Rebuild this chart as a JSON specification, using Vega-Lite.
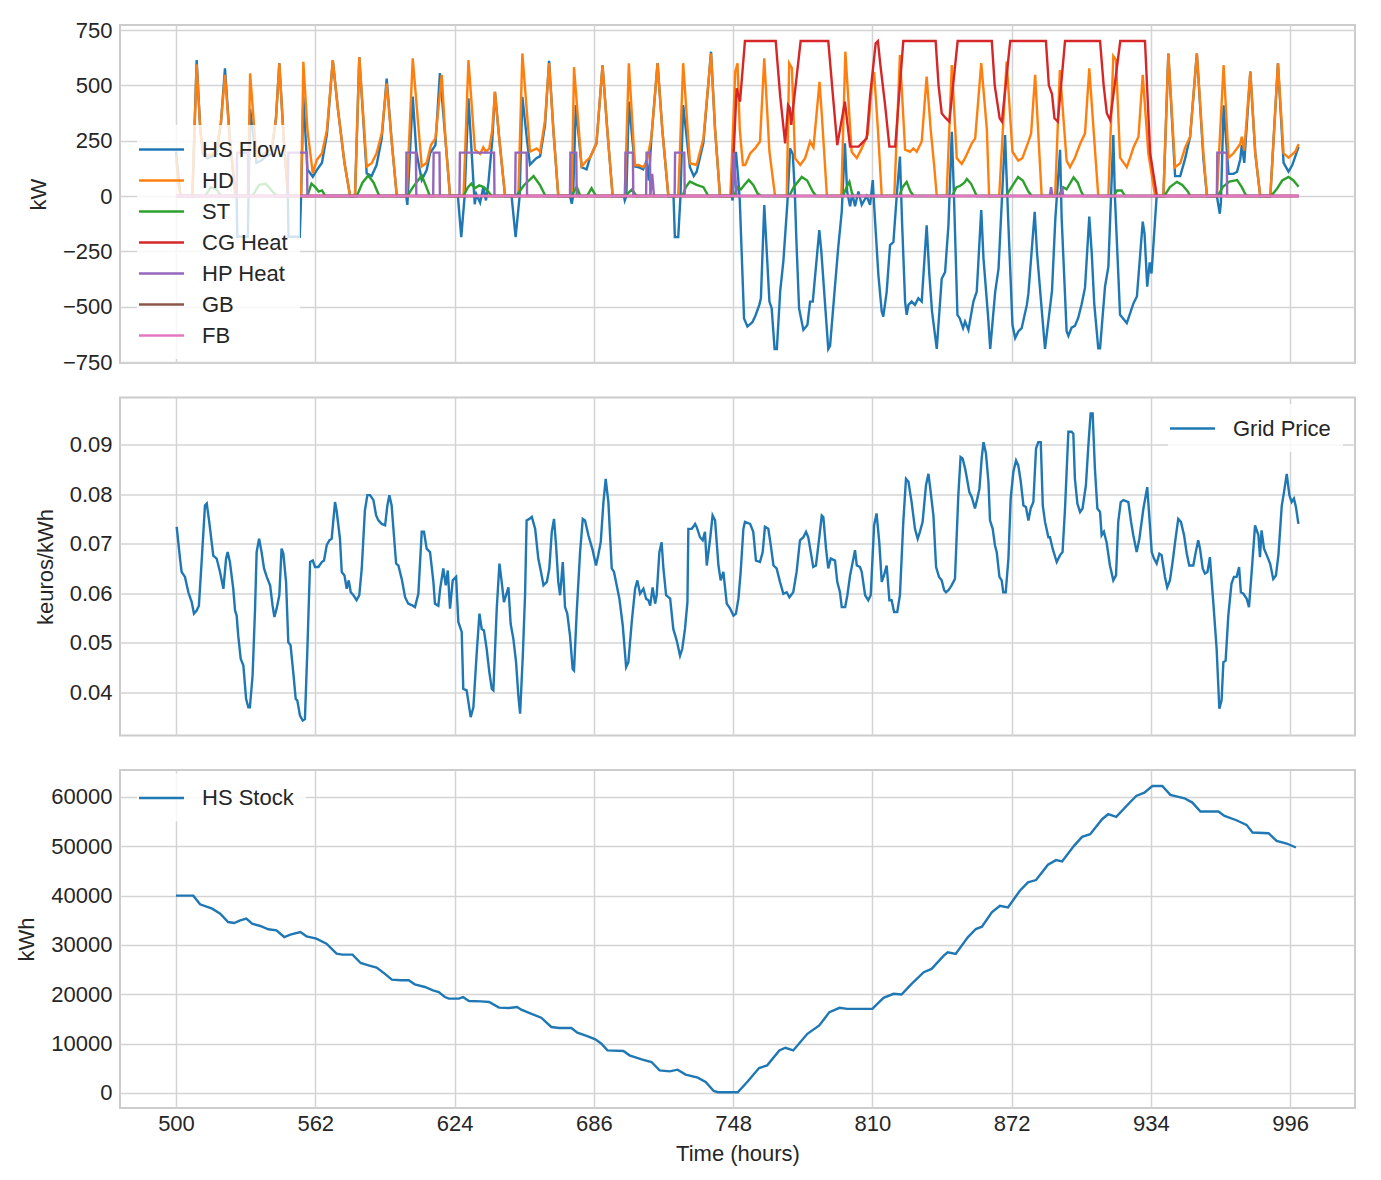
{
"$schema":"https://vega.github.io/schema/vega-lite/v6.json",
"padding":{"left":14,"top":18,"right":26,"bottom":10},
"background":"white",
"spacing":34.5,
"bounds":"flush",
"resolve":{"scale":{"color":"independent"},"legend":{"color":"independent"}},
"vconcat":[
{"width":1235,"height":338,
"encoding":{
"x":{"field":"t","type":"quantitative","scale":{"domain":[475.07,1024.9],"nice":false,"zero":false},"axis":{"values":[500,562,624,686,748,810,872,934,996],"labels":false,"title":null}},
"y":{"field":"v","type":"quantitative","scale":{"domain":[-754.5,772.6],"nice":false,"zero":false},"axis":{"values":[-750,-500,-250,0,250,500,750],"title":"kW"}}},
"layer":[
{"data":{"name":"hs"},"mark":{"type":"line"},"encoding":{"color":{"datum":"HS Flow","type":"nominal","scale":{"domain":["HS Flow","HD","ST","CG Heat","HP Heat","GB","FB"],"range":["#1f77b4","#ff7f0e","#2ca02c","#d62728","#9467bd","#8c564b","#e377c2"]},"legend":{"title":null,"orient":"none","legendX":17,"legendY":100,"symbolType":"M-2,0H2","symbolSize":506,"symbolStrokeWidth":2.4,"labelOffset":28,"rowPadding":7,"padding":12,"fillColor":"rgba(255,255,255,0.8)","labelFontSize":22,"labelColor":"#262626"}}}},
{"data":{"name":"hd"},"mark":{"type":"line"},"encoding":{"color":{"datum":"HD","type":"nominal"}}},
{"data":{"name":"st"},"mark":{"type":"line"},"encoding":{"color":{"datum":"ST","type":"nominal"}}},
{"data":{"name":"cg"},"mark":{"type":"line"},"encoding":{"color":{"datum":"CG Heat","type":"nominal"}}},
{"data":{"name":"hp"},"mark":{"type":"line"},"encoding":{"color":{"datum":"HP Heat","type":"nominal"}}},
{"data":{"name":"gb"},"mark":{"type":"line"},"encoding":{"color":{"datum":"GB","type":"nominal"}}},
{"data":{"name":"fb"},"mark":{"type":"line"},"encoding":{"color":{"datum":"FB","type":"nominal"}}}
]},
{"width":1235,"height":338,
"data":{"name":"price"},
"mark":{"type":"line"},
"encoding":{
"x":{"field":"t","type":"quantitative","scale":{"domain":[475.07,1024.9],"nice":false,"zero":false},"axis":{"values":[500,562,624,686,748,810,872,934,996],"labels":false,"title":null}},
"y":{"field":"p","type":"quantitative","scale":{"domain":[0.0313,0.0995],"nice":false,"zero":false},"axis":{"values":[0.04,0.05,0.06,0.07,0.08,0.09],"format":".2f","title":"keuros/kWh"}},
"color":{"datum":"Grid Price","type":"nominal","scale":{"domain":["Grid Price"],"range":["#1f77b4"]},"legend":{"title":null,"orient":"none","legendX":1048,"legendY":6.5,"symbolType":"M-2,0H2","symbolSize":506,"symbolStrokeWidth":2.4,"labelOffset":28,"padding":12,"fillColor":"rgba(255,255,255,0.8)","labelFontSize":22,"labelColor":"#262626"}}}},
{"width":1235,"height":338,
"data":{"name":"stock"},
"mark":{"type":"line"},
"encoding":{
"x":{"field":"t","type":"quantitative","scale":{"domain":[475.07,1024.9],"nice":false,"zero":false},"axis":{"values":[500,562,624,686,748,810,872,934,996],"format":"d","title":"Time (hours)","labelPadding":5,"titlePadding":9}},
"y":{"field":"s","type":"quantitative","scale":{"domain":[-3041,65473],"nice":false,"zero":false},"axis":{"values":[0,10000,20000,30000,40000,50000,60000],"format":"d","title":"kWh"}},
"color":{"datum":"HS Stock","type":"nominal","scale":{"domain":["HS Stock"],"range":["#1f77b4"]},"legend":{"title":null,"orient":"none","legendX":17,"legendY":3.5,"symbolType":"M-2,0H2","symbolSize":506,"symbolStrokeWidth":2.4,"labelOffset":28,"padding":12,"fillColor":"rgba(255,255,255,0.8)","labelFontSize":22,"labelColor":"#262626"}}}}
],
"datasets":{
"hs":[{"t":500,"v":200},{"t":501.5,"v":50},{"t":502,"v":0},{"t":507.3,"v":0},{"t":509.2,"v":614},{"t":510.8,"v":300},{"t":512,"v":190},{"t":514,"v":170},{"t":516,"v":180},{"t":518,"v":190},{"t":520,"v":330},{"t":521.8,"v":577},{"t":524,"v":250},{"t":526.5,"v":0},{"t":527,"v":0},{"t":527.3,"v":-184},{"t":532,"v":-184},{"t":532.3,"v":0},{"t":533,"v":394},{"t":535.8,"v":150},{"t":538,"v":160},{"t":540,"v":180},{"t":542.5,"v":190},{"t":544.5,"v":350},{"t":546,"v":599},{"t":548,"v":250},{"t":549.8,"v":0},{"t":550.1,"v":-184},{"t":555.1,"v":-184},{"t":555.7,"v":0},{"t":556.7,"v":449},{"t":558.5,"v":120},{"t":560.9,"v":87},{"t":562.7,"v":117},{"t":565,"v":150},{"t":567.2,"v":280},{"t":569.8,"v":614},{"t":572,"v":400},{"t":575,"v":150},{"t":577.5,"v":0},{"t":579.7,"v":0},{"t":581.6,"v":628},{"t":584.9,"v":102},{"t":587.1,"v":90},{"t":589.3,"v":140},{"t":591.6,"v":260},{"t":593.8,"v":531},{"t":596,"v":250},{"t":598.3,"v":0},{"t":602.5,"v":0},{"t":603,"v":-40},{"t":605.4,"v":449},{"t":607,"v":200},{"t":609.4,"v":72},{"t":611.6,"v":117},{"t":613.1,"v":193},{"t":615.5,"v":230},{"t":617.5,"v":555},{"t":620,"v":250},{"t":622,"v":0},{"t":625.5,"v":0},{"t":627,"v":-186},{"t":628.5,"v":0},{"t":630.2,"v":441},{"t":633,"v":-37},{"t":633.7,"v":8},{"t":635.4,"v":-30},{"t":636.8,"v":40},{"t":638,"v":-20},{"t":639.1,"v":60},{"t":640.8,"v":250},{"t":642,"v":471},{"t":644,"v":250},{"t":646.5,"v":0},{"t":649.4,"v":0},{"t":651.2,"v":-186},{"t":653,"v":0},{"t":654.2,"v":448},{"t":656.3,"v":250},{"t":657.6,"v":142},{"t":660.3,"v":170},{"t":662.1,"v":180},{"t":664.3,"v":320},{"t":666.1,"v":611},{"t":668,"v":300},{"t":670.2,"v":0},{"t":675.4,"v":0},{"t":676.2,"v":-35},{"t":676.8,"v":0},{"t":678,"v":411},{"t":680.6,"v":130},{"t":682.8,"v":120},{"t":684.3,"v":173},{"t":687.2,"v":238},{"t":689.9,"v":590},{"t":692,"v":300},{"t":694.4,"v":0},{"t":699.4,"v":0},{"t":699.8,"v":-20},{"t":700.5,"v":0},{"t":701.6,"v":426},{"t":704.3,"v":133},{"t":706,"v":130},{"t":708,"v":120},{"t":709.5,"v":160},{"t":710.5,"v":70},{"t":711.7,"v":270},{"t":714.4,"v":600},{"t":716.5,"v":300},{"t":719.2,"v":0},{"t":721.5,"v":0},{"t":722.1,"v":-186},{"t":723.6,"v":-186},{"t":724.6,"v":0},{"t":725.8,"v":411},{"t":728.8,"v":130},{"t":730.5,"v":90},{"t":731.8,"v":110},{"t":734.8,"v":240},{"t":738.2,"v":652},{"t":740,"v":300},{"t":742.2,"v":0},{"t":747.4,"v":0},{"t":747.8,"v":-20},{"t":748.5,"v":100},{"t":749.3,"v":200},{"t":750.3,"v":80},{"t":751,"v":-20},{"t":752.9,"v":-553},{"t":754.4,"v":-590},{"t":756.6,"v":-570},{"t":758,"v":-540},{"t":759.7,"v":-492},{"t":760.4,"v":-462},{"t":761.9,"v":-41},{"t":764.2,"v":-477},{"t":765.2,"v":-507},{"t":766.5,"v":-691},{"t":767.5,"v":-691},{"t":769,"v":-430},{"t":770.4,"v":-295},{"t":772.2,"v":-30},{"t":773.4,"v":215},{"t":774.6,"v":190},{"t":775.5,"v":20},{"t":776.2,"v":-200},{"t":777.4,"v":-508},{"t":779.3,"v":-605},{"t":781.1,"v":-583},{"t":782.3,"v":-477},{"t":783.5,"v":-477},{"t":786.4,"v":-154},{"t":787.3,"v":-250},{"t":789.1,"v":-508},{"t":790.4,"v":-691},{"t":791.2,"v":-677},{"t":793.4,"v":-405},{"t":794.9,"v":-225},{"t":796.4,"v":-70},{"t":797.8,"v":238},{"t":798.8,"v":20},{"t":800.1,"v":-46},{"t":801.1,"v":10},{"t":802.3,"v":-46},{"t":803.8,"v":20},{"t":805.3,"v":-40},{"t":807.5,"v":0},{"t":809,"v":-40},{"t":810.2,"v":72},{"t":810.8,"v":-40},{"t":812.7,"v":-356},{"t":814.2,"v":-522},{"t":814.9,"v":-545},{"t":816.4,"v":-433},{"t":817.9,"v":-222},{"t":819.4,"v":-208},{"t":820.9,"v":5},{"t":822.3,"v":178},{"t":823.3,"v":-132},{"t":824.6,"v":-477},{"t":825.3,"v":-537},{"t":826.1,"v":-492},{"t":827.5,"v":-477},{"t":829,"v":-492},{"t":830.5,"v":-462},{"t":832,"v":-477},{"t":834.2,"v":-132},{"t":835.4,"v":-356},{"t":836.6,"v":-522},{"t":838.7,"v":-691},{"t":840.9,"v":-374},{"t":842.4,"v":-344},{"t":843.9,"v":-132},{"t":845.4,"v":290},{"t":846.3,"v":20},{"t":847.9,"v":-537},{"t":848.9,"v":-552},{"t":850.4,"v":-597},{"t":851.3,"v":-567},{"t":852.8,"v":-605},{"t":855,"v":-477},{"t":856.5,"v":-432},{"t":858.5,"v":-63},{"t":859.5,"v":-282},{"t":861.6,"v":-552},{"t":862.5,"v":-691},{"t":864.7,"v":-434},{"t":866.2,"v":-328},{"t":869.1,"v":275},{"t":870.6,"v":-132},{"t":872.4,"v":-582},{"t":873.6,"v":-642},{"t":875,"v":-612},{"t":876.5,"v":-597},{"t":878.8,"v":-492},{"t":879.5,"v":-440},{"t":882.3,"v":-71},{"t":883.3,"v":-252},{"t":885.5,"v":-522},{"t":886.9,"v":-691},{"t":890,"v":-429},{"t":891.5,"v":-100},{"t":893.6,"v":209},{"t":894.3,"v":-100},{"t":896.5,"v":-610},{"t":897.3,"v":-632},{"t":898.7,"v":-595},{"t":900.2,"v":-587},{"t":901.7,"v":-550},{"t":903.2,"v":-489},{"t":904.7,"v":-414},{"t":906.6,"v":-93},{"t":907.7,"v":-259},{"t":908.8,"v":-485},{"t":910.6,"v":-688},{"t":911.4,"v":-688},{"t":913.6,"v":-410},{"t":915.1,"v":-319},{"t":917.3,"v":275},{"t":918,"v":0},{"t":920.3,"v":-537},{"t":923.3,"v":-574},{"t":924.8,"v":-529},{"t":926.3,"v":-484},{"t":927.8,"v":-454},{"t":930.4,"v":-116},{"t":931.2,"v":-170},{"t":932.4,"v":-410},{"t":933.5,"v":-300},{"t":934.3,"v":-350},{"t":936.6,"v":0},{"t":939.6,"v":0},{"t":941.8,"v":644},{"t":944.8,"v":90},{"t":947.1,"v":90},{"t":949.3,"v":170},{"t":951.5,"v":268},{"t":954.5,"v":644},{"t":957.4,"v":170},{"t":959,"v":0},{"t":963.4,"v":0},{"t":964.7,"v":-80},{"t":965.2,"v":-30},{"t":966.4,"v":410},{"t":968.6,"v":100},{"t":970.8,"v":100},{"t":972.4,"v":110},{"t":973.8,"v":165},{"t":974.5,"v":230},{"t":975.6,"v":150},{"t":978.3,"v":562},{"t":980.5,"v":193},{"t":982.7,"v":0},{"t":987.2,"v":0},{"t":990.6,"v":599},{"t":993.1,"v":150},{"t":995.3,"v":110},{"t":997,"v":140},{"t":999.8,"v":223}],
"hd":[{"t":500,"v":180},{"t":501,"v":60},{"t":502,"v":0},{"t":507.3,"v":0},{"t":509.2,"v":595},{"t":510.8,"v":300},{"t":512,"v":200},{"t":514,"v":180},{"t":516,"v":190},{"t":518,"v":200},{"t":520,"v":330},{"t":521.8,"v":547},{"t":524,"v":250},{"t":526.5,"v":0},{"t":532,"v":0},{"t":533,"v":554},{"t":535.8,"v":175},{"t":538,"v":180},{"t":540,"v":200},{"t":542.5,"v":210},{"t":544.5,"v":350},{"t":546,"v":599},{"t":548,"v":250},{"t":550,"v":0},{"t":555.7,"v":0},{"t":556.7,"v":606},{"t":558.5,"v":300},{"t":560.9,"v":102},{"t":562.7,"v":163},{"t":565,"v":193},{"t":567.2,"v":298},{"t":569.8,"v":614},{"t":572,"v":400},{"t":575,"v":150},{"t":577.5,"v":0},{"t":579.7,"v":0},{"t":581.6,"v":628},{"t":584.9,"v":133},{"t":587.1,"v":148},{"t":589.3,"v":193},{"t":591.6,"v":283},{"t":593.8,"v":509},{"t":596,"v":250},{"t":598.3,"v":0},{"t":602.7,"v":0},{"t":605.4,"v":622},{"t":609.4,"v":133},{"t":611.6,"v":150},{"t":613.5,"v":230},{"t":615.5,"v":260},{"t":618.3,"v":547},{"t":620,"v":250},{"t":622,"v":0},{"t":628,"v":0},{"t":630.2,"v":614},{"t":633.1,"v":208},{"t":635.4,"v":190},{"t":636.8,"v":220},{"t":638,"v":200},{"t":639.5,"v":215},{"t":640.8,"v":300},{"t":642,"v":471},{"t":644,"v":250},{"t":646.5,"v":0},{"t":652.4,"v":0},{"t":654.2,"v":644},{"t":657.6,"v":200},{"t":660.6,"v":215},{"t":662.1,"v":200},{"t":664.3,"v":343},{"t":666.1,"v":600},{"t":668,"v":300},{"t":670.2,"v":0},{"t":676.2,"v":0},{"t":677.2,"v":582},{"t":680.6,"v":133},{"t":682.8,"v":160},{"t":684.3,"v":173},{"t":687.2,"v":238},{"t":689.9,"v":590},{"t":692,"v":300},{"t":694.4,"v":0},{"t":699.8,"v":0},{"t":701.6,"v":600},{"t":704.3,"v":139},{"t":706,"v":140},{"t":708,"v":130},{"t":709.5,"v":150},{"t":711.7,"v":268},{"t":714.4,"v":600},{"t":716.5,"v":300},{"t":719.2,"v":0},{"t":723.6,"v":0},{"t":725.8,"v":600},{"t":728.8,"v":148},{"t":731.8,"v":140},{"t":734.8,"v":260},{"t":738.2,"v":644},{"t":740,"v":300},{"t":742.2,"v":0},{"t":746.8,"v":0},{"t":749,"v":562},{"t":750,"v":600},{"t":751,"v":300},{"t":752.4,"v":140},{"t":753.4,"v":140},{"t":755.6,"v":192},{"t":757.8,"v":215},{"t":760,"v":246},{"t":761.9,"v":622},{"t":764.2,"v":200},{"t":766.7,"v":0},{"t":771.9,"v":0},{"t":773,"v":600},{"t":774.2,"v":578},{"t":775.6,"v":171},{"t":777.9,"v":140},{"t":780.1,"v":171},{"t":782.3,"v":246},{"t":783.8,"v":220},{"t":786.5,"v":516},{"t":787.5,"v":370},{"t":789.8,"v":0},{"t":796.2,"v":0},{"t":798,"v":652},{"t":800.8,"v":200},{"t":803.1,"v":171},{"t":805.3,"v":215},{"t":808,"v":280},{"t":810.2,"v":547},{"t":810.8,"v":560},{"t":812.5,"v":300},{"t":814.2,"v":0},{"t":819.8,"v":0},{"t":822.3,"v":637},{"t":824.6,"v":209},{"t":826.8,"v":200},{"t":828.3,"v":215},{"t":829.8,"v":200},{"t":832,"v":246},{"t":834.2,"v":539},{"t":836,"v":300},{"t":837.6,"v":130},{"t":838.7,"v":0},{"t":843.1,"v":0},{"t":845.4,"v":592},{"t":847.6,"v":171},{"t":849.8,"v":145},{"t":851.3,"v":171},{"t":854.3,"v":238},{"t":855.8,"v":260},{"t":858.5,"v":600},{"t":861,"v":300},{"t":862,"v":0},{"t":866.5,"v":0},{"t":869.8,"v":607},{"t":872.4,"v":200},{"t":875,"v":160},{"t":876.8,"v":171},{"t":879.5,"v":246},{"t":880.7,"v":282},{"t":882.5,"v":547},{"t":885.4,"v":0},{"t":891.4,"v":0},{"t":893.5,"v":569},{"t":896.5,"v":160},{"t":898,"v":130},{"t":900.2,"v":173},{"t":902.5,"v":235},{"t":904.7,"v":283},{"t":906.6,"v":577},{"t":908.5,"v":300},{"t":910.6,"v":0},{"t":915.1,"v":0},{"t":917.3,"v":632},{"t":918.5,"v":615},{"t":920.3,"v":173},{"t":923.3,"v":130},{"t":924.8,"v":173},{"t":926.3,"v":220},{"t":928.5,"v":268},{"t":930.4,"v":547},{"t":932.9,"v":193},{"t":935.9,"v":0},{"t":939.6,"v":0},{"t":941.8,"v":644},{"t":944.8,"v":130},{"t":947.1,"v":148},{"t":949.3,"v":220},{"t":951.5,"v":268},{"t":954.5,"v":644},{"t":957.4,"v":193},{"t":959,"v":0},{"t":963.4,"v":0},{"t":966.4,"v":592},{"t":968.6,"v":173},{"t":970.8,"v":193},{"t":973.8,"v":235},{"t":974.5,"v":268},{"t":975.6,"v":205},{"t":978.3,"v":562},{"t":980.5,"v":193},{"t":982.7,"v":0},{"t":987.2,"v":0},{"t":990.6,"v":599},{"t":993.1,"v":193},{"t":995.3,"v":173},{"t":998.3,"v":200},{"t":999.8,"v":235}],
"st":[{"t":500,"v":0},{"t":513,"v":0},{"t":515.5,"v":40},{"t":518,"v":30},{"t":520,"v":0},{"t":534,"v":0},{"t":537,"v":50},{"t":540,"v":55},{"t":543,"v":20},{"t":545,"v":0},{"t":558.5,"v":0},{"t":560.3,"v":56},{"t":562,"v":40},{"t":563.5,"v":20},{"t":565,"v":25},{"t":566.5,"v":0},{"t":580.5,"v":0},{"t":583,"v":60},{"t":585.6,"v":93},{"t":588,"v":60},{"t":590.5,"v":0},{"t":603,"v":0},{"t":605.5,"v":40},{"t":609.4,"v":93},{"t":611.5,"v":40},{"t":613,"v":0},{"t":628,"v":0},{"t":630,"v":40},{"t":631.5,"v":56},{"t":633,"v":35},{"t":635,"v":48},{"t":637,"v":40},{"t":639,"v":20},{"t":640.5,"v":0},{"t":651.5,"v":0},{"t":655,"v":50},{"t":659.2,"v":90},{"t":662,"v":50},{"t":664.5,"v":0},{"t":676,"v":0},{"t":678.4,"v":42},{"t":680,"v":0},{"t":683,"v":0},{"t":685,"v":35},{"t":687,"v":0},{"t":700,"v":0},{"t":703,"v":30},{"t":705,"v":0},{"t":725.5,"v":0},{"t":727,"v":40},{"t":728.8,"v":65},{"t":731.8,"v":50},{"t":734.8,"v":40},{"t":737,"v":0},{"t":748.5,"v":0},{"t":750,"v":40},{"t":751.5,"v":30},{"t":753,"v":50},{"t":755,"v":73},{"t":757,"v":50},{"t":759,"v":10},{"t":760.8,"v":0},{"t":773,"v":0},{"t":775,"v":40},{"t":778.6,"v":86},{"t":781,"v":70},{"t":783.5,"v":20},{"t":785,"v":0},{"t":797,"v":0},{"t":798.5,"v":40},{"t":799.8,"v":64},{"t":801,"v":10},{"t":802,"v":0},{"t":822,"v":0},{"t":823.5,"v":40},{"t":825.3,"v":64},{"t":827,"v":20},{"t":828.5,"v":0},{"t":845.5,"v":0},{"t":847.5,"v":40},{"t":849,"v":45},{"t":851,"v":60},{"t":852.1,"v":77},{"t":854,"v":55},{"t":856.5,"v":0},{"t":869.5,"v":0},{"t":872,"v":40},{"t":874.9,"v":86},{"t":877,"v":70},{"t":879.5,"v":20},{"t":881,"v":0},{"t":893,"v":0},{"t":895,"v":40},{"t":896.5,"v":30},{"t":899.6,"v":84},{"t":901.5,"v":60},{"t":903,"v":20},{"t":904,"v":0},{"t":917.5,"v":0},{"t":919,"v":25},{"t":921,"v":25},{"t":922.5,"v":0},{"t":940,"v":0},{"t":942.5,"v":40},{"t":945.6,"v":64},{"t":948,"v":50},{"t":950.5,"v":20},{"t":951.5,"v":0},{"t":963.8,"v":0},{"t":966,"v":40},{"t":969,"v":65},{"t":972.4,"v":72},{"t":974.5,"v":40},{"t":976.5,"v":0},{"t":987.5,"v":0},{"t":990,"v":30},{"t":992.5,"v":70},{"t":995.3,"v":86},{"t":997.5,"v":70},{"t":999.8,"v":42}],
"cg":[{"t":500,"v":0},{"t":747.4,"v":0},{"t":749.6,"v":487},{"t":751.1,"v":426},{"t":753.3,"v":700},{"t":767,"v":700},{"t":769,"v":450},{"t":771.2,"v":238},{"t":772.5,"v":411},{"t":773.2,"v":400},{"t":773.9,"v":321},{"t":778.1,"v":700},{"t":790.4,"v":700},{"t":792.5,"v":450},{"t":794.4,"v":230},{"t":797.8,"v":426},{"t":800.1,"v":223},{"t":803.9,"v":223},{"t":805.5,"v":240},{"t":807.5,"v":260},{"t":809,"v":450},{"t":811.5,"v":690},{"t":812.5,"v":700},{"t":813.5,"v":600},{"t":815.7,"v":411},{"t":817.6,"v":223},{"t":820.2,"v":223},{"t":823.8,"v":700},{"t":838.2,"v":700},{"t":839.5,"v":500},{"t":840.9,"v":374},{"t":842.4,"v":355},{"t":844.3,"v":336},{"t":848,"v":700},{"t":863.2,"v":700},{"t":864.5,"v":500},{"t":866.7,"v":351},{"t":867.7,"v":336},{"t":871.4,"v":700},{"t":887.3,"v":700},{"t":888.6,"v":500},{"t":890,"v":461},{"t":891.1,"v":351},{"t":892.6,"v":336},{"t":895.8,"v":700},{"t":911.4,"v":700},{"t":913,"v":500},{"t":914.4,"v":374},{"t":915.9,"v":343},{"t":920.4,"v":700},{"t":931.4,"v":700},{"t":933.7,"v":193},{"t":936.7,"v":0},{"t":999.8,"v":0}],
"hp":[{"t":500,"v":0},{"t":527,"v":0},{"t":527.2,"v":196},{"t":532,"v":196},{"t":532.2,"v":0},{"t":549.8,"v":0},{"t":550,"v":196},{"t":558.3,"v":196},{"t":558.5,"v":0},{"t":602.4,"v":0},{"t":602.6,"v":196},{"t":606.8,"v":196},{"t":607,"v":0},{"t":614.5,"v":0},{"t":614.7,"v":196},{"t":617.3,"v":196},{"t":617.5,"v":0},{"t":626.2,"v":0},{"t":626.4,"v":196},{"t":641.6,"v":196},{"t":641.8,"v":0},{"t":651,"v":0},{"t":651.2,"v":196},{"t":656.1,"v":196},{"t":656.3,"v":0},{"t":675.4,"v":0},{"t":675.6,"v":196},{"t":678.2,"v":196},{"t":678.4,"v":0},{"t":699.9,"v":0},{"t":700.1,"v":196},{"t":703.4,"v":196},{"t":703.6,"v":0},{"t":709.3,"v":0},{"t":709.5,"v":196},{"t":711,"v":196},{"t":711.2,"v":0},{"t":712,"v":100},{"t":712.8,"v":0},{"t":722,"v":0},{"t":722.2,"v":196},{"t":726.3,"v":196},{"t":726.5,"v":0},{"t":747.8,"v":0},{"t":748.3,"v":196},{"t":749.6,"v":0},{"t":889,"v":0},{"t":889.6,"v":40},{"t":890.2,"v":0},{"t":894,"v":0},{"t":894.5,"v":40},{"t":895,"v":0},{"t":963.4,"v":0},{"t":963.6,"v":196},{"t":967.8,"v":196},{"t":968,"v":0},{"t":999.8,"v":0}],
"gb":[{"t":500,"v":0},{"t":999.8,"v":0}],
"fb":[{"t":500,"v":0},{"t":999.8,"v":0}],
"price":[{"t":500.3,"p":0.0734},{"t":501.8,"p":0.067},{"t":502.5,"p":0.0643},{"t":504,"p":0.0633},{"t":505.5,"p":0.0602},{"t":507,"p":0.0582},{"t":508,"p":0.0559},{"t":509.2,"p":0.0565},{"t":510.2,"p":0.0575},{"t":511.4,"p":0.0663},{"t":512.9,"p":0.0777},{"t":513.7,"p":0.0781},{"t":514.8,"p":0.0744},{"t":516.6,"p":0.0676},{"t":518.1,"p":0.067},{"t":519.6,"p":0.0643},{"t":521.1,"p":0.0609},{"t":522.3,"p":0.067},{"t":523,"p":0.0683},{"t":524,"p":0.0663},{"t":525.5,"p":0.0609},{"t":526.3,"p":0.0565},{"t":527,"p":0.0555},{"t":527.7,"p":0.0515},{"t":528.8,"p":0.0468},{"t":530,"p":0.0454},{"t":531.2,"p":0.0387},{"t":532.2,"p":0.037},{"t":532.9,"p":0.037},{"t":534.1,"p":0.0434},{"t":535.2,"p":0.0569},{"t":535.9,"p":0.0683},{"t":537,"p":0.071},{"t":538.1,"p":0.0683},{"t":539.2,"p":0.065},{"t":540.4,"p":0.0633},{"t":541.9,"p":0.0616},{"t":543,"p":0.0575},{"t":543.8,"p":0.0552},{"t":544.8,"p":0.0569},{"t":546,"p":0.0596},{"t":547,"p":0.069},{"t":547.8,"p":0.068},{"t":549,"p":0.0623},{"t":550,"p":0.0501},{"t":551,"p":0.0495},{"t":552.2,"p":0.0441},{"t":553.3,"p":0.0387},{"t":554,"p":0.0384},{"t":555.2,"p":0.0353},{"t":556.4,"p":0.0343},{"t":557.4,"p":0.0346},{"t":558.5,"p":0.0488},{"t":559.7,"p":0.0663},{"t":560.9,"p":0.0666},{"t":561.9,"p":0.0653},{"t":563.4,"p":0.0653},{"t":564.9,"p":0.0663},{"t":565.9,"p":0.0666},{"t":567.1,"p":0.0697},{"t":568.3,"p":0.0707},{"t":569.3,"p":0.071},{"t":570.8,"p":0.0784},{"t":571.5,"p":0.0767},{"t":573,"p":0.071},{"t":573.8,"p":0.0643},{"t":575,"p":0.0636},{"t":576,"p":0.0609},{"t":576.9,"p":0.0626},{"t":577.8,"p":0.0602},{"t":579,"p":0.0596},{"t":580.4,"p":0.0586},{"t":581.6,"p":0.0596},{"t":582.7,"p":0.065},{"t":584.1,"p":0.0767},{"t":585.2,"p":0.0798},{"t":586.4,"p":0.0798},{"t":587.9,"p":0.0788},{"t":589.1,"p":0.0757},{"t":590.1,"p":0.0747},{"t":591.6,"p":0.074},{"t":593.1,"p":0.0737},{"t":594.1,"p":0.0777},{"t":595,"p":0.0798},{"t":596,"p":0.0777},{"t":598,"p":0.066},{"t":599,"p":0.0656},{"t":600.5,"p":0.0629},{"t":602,"p":0.0592},{"t":603.4,"p":0.0579},{"t":605.4,"p":0.0575},{"t":606.4,"p":0.0572},{"t":607.9,"p":0.0599},{"t":609.4,"p":0.0724},{"t":610.4,"p":0.0724},{"t":611.6,"p":0.069},{"t":613.1,"p":0.0683},{"t":614.6,"p":0.0623},{"t":615.3,"p":0.0579},{"t":616.8,"p":0.0575},{"t":617.6,"p":0.0609},{"t":619,"p":0.065},{"t":620.1,"p":0.0616},{"t":621,"p":0.0646},{"t":622,"p":0.0569},{"t":623.2,"p":0.0626},{"t":624.7,"p":0.0633},{"t":625.7,"p":0.0542},{"t":627.2,"p":0.0522},{"t":627.9,"p":0.0407},{"t":629.4,"p":0.0404},{"t":631.2,"p":0.035},{"t":632.4,"p":0.037},{"t":633.9,"p":0.0481},{"t":635.1,"p":0.0559},{"t":636.1,"p":0.0528},{"t":637.1,"p":0.0525},{"t":638.3,"p":0.0488},{"t":639.5,"p":0.0441},{"t":640.6,"p":0.0407},{"t":641.3,"p":0.0404},{"t":642.8,"p":0.0569},{"t":644,"p":0.066},{"t":645,"p":0.0623},{"t":646,"p":0.0582},{"t":648,"p":0.0612},{"t":649,"p":0.0538},{"t":650.2,"p":0.0508},{"t":651.4,"p":0.0461},{"t":652.4,"p":0.0394},{"t":653.2,"p":0.0357},{"t":654.4,"p":0.0474},{"t":655.4,"p":0.0596},{"t":656.1,"p":0.0747},{"t":657.3,"p":0.075},{"t":658.4,"p":0.0754},{"t":659.9,"p":0.073},{"t":661.3,"p":0.067},{"t":662.5,"p":0.0643},{"t":663.6,"p":0.0616},{"t":665.1,"p":0.0623},{"t":666.2,"p":0.065},{"t":667.3,"p":0.0724},{"t":668.3,"p":0.075},{"t":669.2,"p":0.0697},{"t":670.2,"p":0.0623},{"t":671,"p":0.0596},{"t":672.2,"p":0.0663},{"t":673.2,"p":0.0572},{"t":674.2,"p":0.0559},{"t":675.4,"p":0.0515},{"t":676.6,"p":0.0447},{"t":677.2,"p":0.0444},{"t":678.4,"p":0.0562},{"t":679.9,"p":0.0683},{"t":681.1,"p":0.075},{"t":682.1,"p":0.0747},{"t":683.6,"p":0.0717},{"t":685.5,"p":0.0687},{"t":687,"p":0.0656},{"t":688,"p":0.0677},{"t":689.1,"p":0.0703},{"t":690.3,"p":0.0784},{"t":691.3,"p":0.0831},{"t":692.5,"p":0.0784},{"t":694,"p":0.065},{"t":695,"p":0.0643},{"t":696.2,"p":0.0616},{"t":697.4,"p":0.0589},{"t":698.9,"p":0.0535},{"t":700.4,"p":0.0451},{"t":701.4,"p":0.0461},{"t":702.9,"p":0.0542},{"t":704.4,"p":0.0609},{"t":705.4,"p":0.0626},{"t":706.6,"p":0.0599},{"t":708.1,"p":0.0609},{"t":709.3,"p":0.0589},{"t":710.3,"p":0.0586},{"t":711.1,"p":0.0575},{"t":712.2,"p":0.0612},{"t":713.3,"p":0.0579},{"t":714,"p":0.0596},{"t":715.2,"p":0.0683},{"t":716.2,"p":0.0703},{"t":717,"p":0.065},{"t":718.2,"p":0.0596},{"t":720,"p":0.0589},{"t":721.4,"p":0.0528},{"t":722.9,"p":0.0505},{"t":724.4,"p":0.0474},{"t":725.4,"p":0.0488},{"t":726.6,"p":0.0528},{"t":727.7,"p":0.0582},{"t":728.1,"p":0.073},{"t":729.6,"p":0.073},{"t":730.3,"p":0.0734},{"t":731.1,"p":0.074},{"t":731.8,"p":0.0734},{"t":733.3,"p":0.0713},{"t":734.5,"p":0.0707},{"t":735.5,"p":0.0724},{"t":736.3,"p":0.0656},{"t":737.8,"p":0.071},{"t":738.9,"p":0.0757},{"t":740,"p":0.0747},{"t":741.5,"p":0.0656},{"t":742.5,"p":0.0626},{"t":743.7,"p":0.0643},{"t":745.2,"p":0.0579},{"t":746.7,"p":0.0569},{"t":748.2,"p":0.0555},{"t":749.3,"p":0.0559},{"t":750.4,"p":0.0589},{"t":751.4,"p":0.0643},{"t":752.6,"p":0.073},{"t":753.3,"p":0.0744},{"t":755.6,"p":0.074},{"t":757,"p":0.0724},{"t":758.2,"p":0.0666},{"t":760,"p":0.0663},{"t":761.2,"p":0.0683},{"t":762.2,"p":0.0734},{"t":763.7,"p":0.073},{"t":764.8,"p":0.0697},{"t":766,"p":0.0656},{"t":767.4,"p":0.065},{"t":768.9,"p":0.0623},{"t":770.4,"p":0.0599},{"t":771.9,"p":0.0602},{"t":773.1,"p":0.0592},{"t":774.8,"p":0.0602},{"t":776.3,"p":0.0643},{"t":777.8,"p":0.0707},{"t":779.3,"p":0.0713},{"t":780.5,"p":0.0724},{"t":781.5,"p":0.0713},{"t":782.6,"p":0.0683},{"t":783.7,"p":0.0653},{"t":784.9,"p":0.0656},{"t":786,"p":0.0697},{"t":787.5,"p":0.0757},{"t":788.2,"p":0.0754},{"t":789.4,"p":0.069},{"t":790.4,"p":0.065},{"t":791.5,"p":0.067},{"t":793.4,"p":0.0666},{"t":794.4,"p":0.0623},{"t":795.6,"p":0.0602},{"t":796.4,"p":0.0572},{"t":797.9,"p":0.0572},{"t":798.9,"p":0.0596},{"t":800.1,"p":0.0636},{"t":801.6,"p":0.067},{"t":802.3,"p":0.0687},{"t":803.1,"p":0.0656},{"t":804.5,"p":0.0653},{"t":805.3,"p":0.0643},{"t":806.8,"p":0.0596},{"t":808.2,"p":0.0586},{"t":809.3,"p":0.0596},{"t":810.8,"p":0.0737},{"t":811.9,"p":0.0761},{"t":813.1,"p":0.0703},{"t":814.2,"p":0.0623},{"t":815.2,"p":0.0636},{"t":816.4,"p":0.0656},{"t":817.6,"p":0.0586},{"t":818.6,"p":0.0586},{"t":819.7,"p":0.0562},{"t":821.1,"p":0.0562},{"t":822.3,"p":0.0596},{"t":823.8,"p":0.0744},{"t":825,"p":0.0831},{"t":826.1,"p":0.0825},{"t":827.5,"p":0.0784},{"t":829,"p":0.073},{"t":830.2,"p":0.071},{"t":831.2,"p":0.0724},{"t":832.4,"p":0.0744},{"t":833.9,"p":0.0818},{"t":835,"p":0.0841},{"t":836,"p":0.0804},{"t":837.2,"p":0.0757},{"t":838.4,"p":0.0653},{"t":839.7,"p":0.0633},{"t":840.9,"p":0.0626},{"t":842,"p":0.0606},{"t":842.8,"p":0.0602},{"t":843.9,"p":0.0606},{"t":845.3,"p":0.0616},{"t":846.8,"p":0.0629},{"t":848.3,"p":0.0798},{"t":849.3,"p":0.0875},{"t":850.2,"p":0.0872},{"t":851.3,"p":0.0852},{"t":852,"p":0.0835},{"t":853.2,"p":0.0804},{"t":854.3,"p":0.0794},{"t":855.7,"p":0.0771},{"t":856.8,"p":0.0792},{"t":857.7,"p":0.0811},{"t":858.7,"p":0.0872},{"t":859.5,"p":0.0905},{"t":860.6,"p":0.0882},{"t":861.7,"p":0.0825},{"t":862.4,"p":0.0747},{"t":863.6,"p":0.073},{"t":864.6,"p":0.0697},{"t":865.4,"p":0.0683},{"t":866.6,"p":0.0633},{"t":867.6,"p":0.0626},{"t":868.3,"p":0.0602},{"t":869.4,"p":0.0602},{"t":870.6,"p":0.067},{"t":871.6,"p":0.0791},{"t":872.8,"p":0.0845},{"t":874,"p":0.0868},{"t":875,"p":0.0858},{"t":876.1,"p":0.0825},{"t":877.3,"p":0.0777},{"t":878.4,"p":0.0774},{"t":879.5,"p":0.0747},{"t":880.5,"p":0.0771},{"t":881.7,"p":0.0784},{"t":882.9,"p":0.0892},{"t":883.9,"p":0.0905},{"t":885,"p":0.0905},{"t":885.9,"p":0.0777},{"t":886.9,"p":0.0744},{"t":888.4,"p":0.0713},{"t":889.1,"p":0.0713},{"t":890.3,"p":0.069},{"t":892.1,"p":0.0663},{"t":893.6,"p":0.0677},{"t":894.7,"p":0.0683},{"t":895.8,"p":0.0771},{"t":896.8,"p":0.0875},{"t":897.3,"p":0.0926},{"t":898.7,"p":0.0926},{"t":899.5,"p":0.0922},{"t":900.2,"p":0.0831},{"t":901.3,"p":0.0781},{"t":902.5,"p":0.0764},{"t":903.6,"p":0.0771},{"t":905.1,"p":0.0818},{"t":906.2,"p":0.0899},{"t":907.2,"p":0.0963},{"t":908.1,"p":0.0963},{"t":909.1,"p":0.0852},{"t":910.2,"p":0.0771},{"t":911.4,"p":0.0764},{"t":912.1,"p":0.0717},{"t":913.1,"p":0.0724},{"t":914.3,"p":0.0703},{"t":915.8,"p":0.0656},{"t":917.3,"p":0.0626},{"t":918.5,"p":0.0636},{"t":919.5,"p":0.0744},{"t":920.6,"p":0.0784},{"t":921.8,"p":0.0788},{"t":924,"p":0.0784},{"t":925.2,"p":0.0744},{"t":926.2,"p":0.0717},{"t":927.7,"p":0.0683},{"t":928.9,"p":0.071},{"t":930.7,"p":0.0771},{"t":932.4,"p":0.0814},{"t":933.6,"p":0.0737},{"t":934.4,"p":0.0683},{"t":935.4,"p":0.067},{"t":936.6,"p":0.066},{"t":937.8,"p":0.068},{"t":938.8,"p":0.0677},{"t":940.3,"p":0.0633},{"t":941.3,"p":0.0612},{"t":942.5,"p":0.0626},{"t":943.7,"p":0.0663},{"t":944.8,"p":0.0703},{"t":946.2,"p":0.075},{"t":947.4,"p":0.0744},{"t":948.8,"p":0.0717},{"t":950,"p":0.068},{"t":951.1,"p":0.0656},{"t":952.9,"p":0.0656},{"t":954,"p":0.0683},{"t":955.1,"p":0.0707},{"t":955.9,"p":0.069},{"t":957.1,"p":0.065},{"t":958.1,"p":0.064},{"t":959.2,"p":0.0643},{"t":960.3,"p":0.0673},{"t":961.8,"p":0.0582},{"t":963.3,"p":0.0488},{"t":964.5,"p":0.0367},{"t":965.5,"p":0.0384},{"t":966.3,"p":0.0461},{"t":967.3,"p":0.0464},{"t":968.5,"p":0.0555},{"t":969.9,"p":0.0619},{"t":971,"p":0.0633},{"t":972.2,"p":0.0633},{"t":973.3,"p":0.0653},{"t":974.1,"p":0.0602},{"t":975.2,"p":0.0599},{"t":976.7,"p":0.0589},{"t":977.7,"p":0.0572},{"t":978.9,"p":0.0643},{"t":980.4,"p":0.0737},{"t":981.9,"p":0.0717},{"t":982.6,"p":0.0673},{"t":983.3,"p":0.0727},{"t":984.4,"p":0.069},{"t":985.6,"p":0.0677},{"t":987.1,"p":0.066},{"t":988.5,"p":0.0629},{"t":989.7,"p":0.0636},{"t":990.8,"p":0.0677},{"t":992.3,"p":0.0777},{"t":993.3,"p":0.0804},{"t":994.5,"p":0.0841},{"t":995.7,"p":0.0798},{"t":996.7,"p":0.0784},{"t":997.7,"p":0.0791},{"t":998.6,"p":0.0774},{"t":999.7,"p":0.074}],
"stock":[{"t":500,"s":40000},{"t":507.7,"s":40000},{"t":510.7,"s":38240},{"t":516.1,"s":37360},{"t":519.7,"s":36350},{"t":523.2,"s":34660},{"t":525.9,"s":34460},{"t":528.6,"s":35000},{"t":531.3,"s":35340},{"t":533.9,"s":34320},{"t":537.5,"s":33850},{"t":541.1,"s":33180},{"t":544.7,"s":32970},{"t":548.2,"s":31620},{"t":550.9,"s":32090},{"t":555.4,"s":32640},{"t":558.1,"s":31760},{"t":562.5,"s":31280},{"t":567,"s":30270},{"t":571.5,"s":28240},{"t":574.1,"s":28040},{"t":578.6,"s":28040},{"t":582.2,"s":26350},{"t":585.7,"s":25880},{"t":589.3,"s":25410},{"t":592.9,"s":24190},{"t":596.1,"s":22970},{"t":600.1,"s":22840},{"t":603.6,"s":22840},{"t":606.3,"s":22030},{"t":610.8,"s":21490},{"t":614.4,"s":20810},{"t":617,"s":20470},{"t":619.7,"s":19460},{"t":621.5,"s":19120},{"t":626,"s":19120},{"t":627.8,"s":19460},{"t":630.4,"s":18650},{"t":635.8,"s":18580},{"t":639.4,"s":18450},{"t":643.8,"s":17300},{"t":648.3,"s":17230},{"t":651.9,"s":17430},{"t":653.7,"s":16890},{"t":657.2,"s":16220},{"t":662.6,"s":15270},{"t":667.1,"s":13380},{"t":670.6,"s":13180},{"t":676,"s":13180},{"t":678.7,"s":12230},{"t":683.1,"s":11550},{"t":686.7,"s":10880},{"t":689.4,"s":10000},{"t":692.1,"s":8650},{"t":699.2,"s":8510},{"t":701.9,"s":7640},{"t":707.3,"s":6820},{"t":711.7,"s":6280},{"t":715.3,"s":4590},{"t":719.8,"s":4390},{"t":723.3,"s":4730},{"t":726.9,"s":3720},{"t":732.3,"s":3110},{"t":735.8,"s":2230},{"t":739.4,"s":410},{"t":741.2,"s":150},{"t":750.1,"s":150},{"t":754.3,"s":2230},{"t":759.6,"s":5060},{"t":763.2,"s":5600},{"t":768.6,"s":8630},{"t":771.3,"s":9170},{"t":774.8,"s":8630},{"t":781.1,"s":12000},{"t":786.4,"s":13690},{"t":790.9,"s":16390},{"t":795.4,"s":17260},{"t":798.9,"s":17060},{"t":810,"s":17060},{"t":815,"s":19290},{"t":819.5,"s":20100},{"t":823,"s":19960},{"t":827.5,"s":22120},{"t":832.9,"s":24480},{"t":836.4,"s":25150},{"t":841.8,"s":27850},{"t":843.6,"s":28520},{"t":847.1,"s":28190},{"t":852.5,"s":31560},{"t":856.1,"s":33240},{"t":858.8,"s":33720},{"t":863.2,"s":36620},{"t":866.8,"s":37960},{"t":870.4,"s":37630},{"t":875.7,"s":41000},{"t":879.3,"s":42690},{"t":882.9,"s":43160},{"t":888.2,"s":46260},{"t":891.8,"s":47200},{"t":894.5,"s":46930},{"t":899.8,"s":50100},{"t":903.4,"s":51920},{"t":907,"s":52460},{"t":912.3,"s":55500},{"t":915,"s":56510},{"t":918.6,"s":55970},{"t":923.9,"s":58530},{"t":927.5,"s":60220},{"t":931.1,"s":60890},{"t":934.7,"s":62240},{"t":939.1,"s":62240},{"t":942.7,"s":60420},{"t":949,"s":59740},{"t":952.5,"s":58870},{"t":956.1,"s":57050},{"t":964.1,"s":57050},{"t":966.8,"s":56170},{"t":972.1,"s":55290},{"t":976.6,"s":54350},{"t":979.3,"s":52800},{"t":986.4,"s":52660},{"t":990,"s":51110},{"t":994.5,"s":50570},{"t":998.6,"s":49760}]
},
"config":{
"font":"Liberation Sans",
"view":{"stroke":"#cccccc","strokeWidth":2},
"line":{"strokeWidth":2.4},
"axis":{"labelFontSize":22,"titleFontSize":22,"labelColor":"#262626","titleColor":"#262626","titleFontWeight":"normal","labelFont":"Liberation Sans","titleFont":"Liberation Sans","grid":true,"gridColor":"#d4d4d4","gridWidth":1.5,"ticks":false,"domain":false,"labelPadding":8,"titlePadding":12},
"legend":{"labelFont":"Liberation Sans"}
}
}
